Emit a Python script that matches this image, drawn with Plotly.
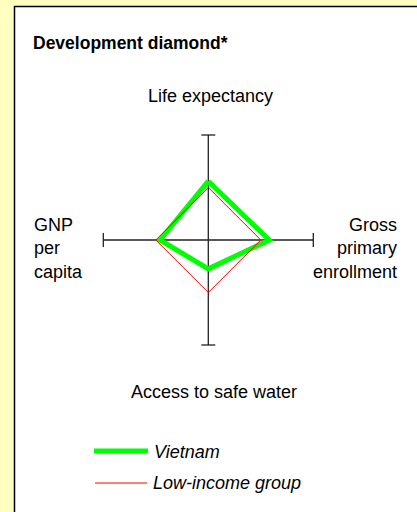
import plotly.graph_objects as go

# ---- data ----
axis_labels = ["Life expectancy", "Gross<br>primary<br>enrollment", "Access to safe water", "GNP<br>per<br>capita"]
vietnam = [112, 116, 55, 92]          # indexed, low-income group = 100
low_income = [100, 100, 100, 100]
axis_max = 200
series_names = ["Vietnam", "Low-income group"]
title_text = "Development diamond*"

# ---- layout geometry ----
W, H = 417, 512
cx, cy = 208.3, 240.0          # centre of diamond in pixels
half_len_px = 105.0
ppu = half_len_px / axis_max   # pixels per unit

# directions: top, right, bottom, left
dirs = [(0, 1), (1, 0), (0, -1), (-1, 0)]


def diamond(vals):
    xs = [d[0] * v for d, v in zip(dirs, vals)]
    ys = [d[1] * v for d, v in zip(dirs, vals)]
    return xs + xs[:1], ys + ys[:1]


def px(x):
    return x / W


def py(y):
    return 1 - y / H


cap = 7 / ppu
ax_x, ax_y = [], []
for d in dirs[:2]:
    ax_x += [-d[0] * axis_max, d[0] * axis_max, None]
    ax_y += [-d[1] * axis_max, d[1] * axis_max, None]
for d in dirs:
    ex, ey = d[0] * axis_max, d[1] * axis_max
    if d[0] == 0:
        ax_x += [ex - cap, ex + cap, None]
        ax_y += [ey, ey, None]
    else:
        ax_x += [ex, ex, None]
        ax_y += [ey - cap, ey + cap, None]

fig = go.Figure()
fig.add_trace(go.Scatter(x=ax_x, y=ax_y, mode="lines",
                         line=dict(color="#222222", width=1.3),
                         hoverinfo="skip", showlegend=False))
vx, vy = diamond(vietnam)
fig.add_trace(go.Scatter(x=vx, y=vy, mode="lines", name=series_names[0],
                         line=dict(color="#00FF00", width=5), showlegend=False))
lx, ly = diamond(low_income)
fig.add_trace(go.Scatter(x=lx, y=ly, mode="lines", name=series_names[1],
                         line=dict(color="#FF0000", width=1), showlegend=False))

font = "Arial, Liberation Sans, sans-serif"
annotations = [
    dict(text="<b>" + title_text + "</b>", x=px(32), y=py(43), xanchor="left", yanchor="middle",
         font=dict(size=17.5, family=font, color="black")),
    dict(text=axis_labels[0], x=px(210), y=py(96), xanchor="center", yanchor="middle",
         font=dict(size=18, family=font, color="black")),
    dict(text=axis_labels[1], x=px(398), y=py(248), xanchor="right", yanchor="middle", align="right",
         font=dict(size=18, family=font, color="black")),
    dict(text=axis_labels[2], x=px(214), y=py(392), xanchor="center", yanchor="middle",
         font=dict(size=18, family=font, color="black")),
    dict(text=axis_labels[3], x=px(33), y=py(248), xanchor="left", yanchor="middle", align="left",
         font=dict(size=18, family=font, color="black")),
    dict(text="<i>" + series_names[0] + "</i>", x=px(153), y=py(452), xanchor="left", yanchor="middle",
         font=dict(size=18, family=font, color="black")),
    dict(text="<i>" + series_names[1] + "</i>", x=px(152), y=py(483), xanchor="left", yanchor="middle",
         font=dict(size=18, family=font, color="black")),
]
for a in annotations:
    a.update(xref="paper", yref="paper", showarrow=False, borderpad=0)

shapes = [
    dict(type="rect", xref="paper", yref="paper", x0=px(14.5), x1=px(W + 20), y0=py(H + 20), y1=py(6.5),
         fillcolor="white", line=dict(color="black", width=1.5), layer="below"),
    dict(type="line", xref="paper", yref="paper", x0=px(94), x1=px(148), y0=py(451), y1=py(451),
         line=dict(color="#00FF00", width=5)),
    dict(type="line", xref="paper", yref="paper", x0=px(95), x1=px(147), y0=py(483), y1=py(483),
         line=dict(color="#FF0000", width=1)),
]

fig.update_layout(
    width=W, height=H, autosize=False,
    margin=dict(l=0, r=0, t=0, b=0, pad=0),
    paper_bgcolor="#FFFFC0", plot_bgcolor="rgba(0,0,0,0)",
    xaxis=dict(range=[-cx / ppu, (W - cx) / ppu], visible=False, fixedrange=True),
    yaxis=dict(range=[-(H - cy) / ppu, cy / ppu], visible=False, fixedrange=True),
    annotations=annotations, shapes=shapes, showlegend=False,
)

fig.write_html("out.html", config={"displayModeBar": False},
               post_script="document.body.style.margin='0';")
